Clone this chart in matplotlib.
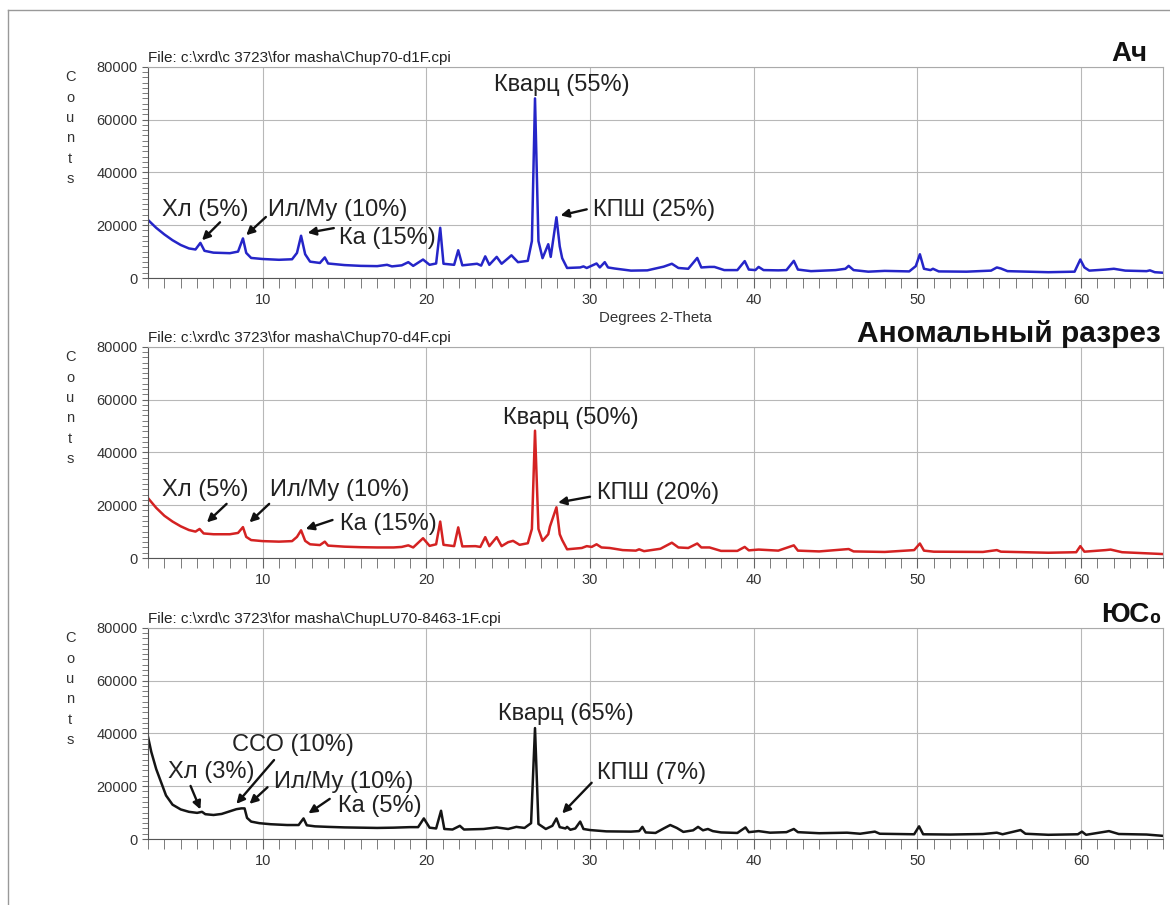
import matplotlib.pyplot as plt
from matplotlib.lines import Line2D
from matplotlib.ticker import MultipleLocator

# 2-theta / counts
ach_theta = [3.0, 3.5, 4.0, 4.5, 5.0, 5.5, 5.9, 6.2, 6.45, 7.0, 8.0, 8.5, 8.8, 9.0, 9.3,
             10.0, 11.0, 11.8, 12.1, 12.35, 12.6, 12.9, 13.5, 13.8, 14.0, 15.0, 16.0, 17.0,
             17.6, 17.9, 18.5, 18.9, 19.2, 19.8, 20.2, 20.6, 20.85, 21.05, 21.7, 21.95, 22.2,
             23.1, 23.35, 23.6, 23.85, 24.3, 24.6, 25.0, 25.2, 25.6, 26.2, 26.45, 26.64, 26.85,
             27.1, 27.45, 27.6, 27.95, 28.15, 28.3, 28.6, 29.4, 29.6, 29.8, 30.4, 30.6, 30.9,
             31.1, 31.5, 32.5, 33.5, 34.5, 35.0, 35.4, 36.0, 36.55, 36.8, 37.3, 37.6, 38.2,
             39.0, 39.45, 39.7, 40.1, 40.3, 40.6, 41.5, 42.0, 42.45, 42.7, 43.5, 45.0, 45.6,
             45.8, 46.1, 47.0, 48.0, 49.5, 49.9, 50.15, 50.4, 50.8, 50.95, 51.3, 53.0, 54.5,
             54.85, 55.1, 55.5, 58.0, 59.6, 59.95, 60.2, 60.5, 61.5, 62.0, 62.7, 64.0, 64.2,
             64.5, 65.0]
ach_counts = [22000, 19000, 16500, 14300, 12500, 11200, 10800, 13300, 10300, 9600, 9400, 10000,
              15000, 9500, 7600, 7200, 6900, 7100, 9500, 16000, 9000, 6200, 5700, 7800, 5500,
              4900, 4600, 4500, 5000, 4400, 4800, 6000, 4600, 7000, 5000, 5500, 19000, 5400,
              5000, 10500, 4800, 5400, 4700, 8200, 5000, 8000, 5400, 7500, 8600, 6000, 6500,
              14000, 68000, 14000, 7500, 12800, 8000, 23000, 12000, 7500, 3800, 4000, 4400,
              3800, 5500, 4000, 6000, 4000, 3600, 2800, 2900, 4300, 5400, 3800, 3500, 7600,
              4000, 4200, 4200, 3000, 3000, 6400, 3200, 3000, 4200, 3000, 2900, 3000, 6500,
              3200, 2600, 3000, 3500, 4600, 3000, 2400, 2700, 2500, 4500, 9000, 3500, 3000,
              3500, 2500, 2400, 2800, 4000, 3600, 2600, 2200, 2400, 7000, 4000, 2800, 3200,
              3500, 2800, 2600, 2900, 2200, 2000]

anom_theta = [3.0, 3.5, 4.0, 4.5, 5.0, 5.5, 5.9, 6.15, 6.4, 7.0, 8.0, 8.5, 8.8, 9.0, 9.3,
              10.0, 11.0, 11.8, 12.1, 12.35, 12.6, 12.9, 13.5, 13.8, 14.0, 15.0, 16.0, 17.0,
              18.0, 18.5, 18.9, 19.2, 19.8, 20.2, 20.6, 20.85, 21.05, 21.7, 21.95, 22.2, 23.0,
              23.3, 23.6, 23.85, 24.3, 24.6, 25.0, 25.3, 25.7, 26.2, 26.45, 26.64, 26.85, 27.1,
              27.45, 27.55, 27.95, 28.15, 28.3, 28.6, 29.5, 29.8, 30.1, 30.4, 30.7, 31.2, 32.0,
              32.8, 33.0, 33.3, 34.3, 35.0, 35.4, 36.0, 36.55, 36.8, 37.3, 38.0, 39.0, 39.45,
              39.7, 40.3, 41.5, 42.45, 42.7, 44.0, 45.8, 46.1, 48.0, 49.8, 50.15, 50.4, 51.0,
              54.0, 54.85, 55.1, 58.0, 59.7, 59.95, 60.2, 61.5, 61.8, 62.5, 65.0]
anom_counts = [22700, 19000, 16000, 13800, 12000, 10600, 10000, 11000, 9300, 9000, 9000, 9500,
               11700, 8000, 6800, 6400, 6200, 6400, 8000, 10500, 6500, 5200, 4900, 6200, 4700,
               4300, 4100, 4000, 4000, 4200, 4800, 4000, 7500, 4600, 5200, 13800, 5000, 4500,
               11600, 4400, 4500, 4200, 7900, 4500, 7900, 4500, 6000, 6500, 5000, 5600, 11000,
               48200, 11000, 6500, 9000, 11900, 19200, 9000, 6800, 3300, 3800, 4500, 4200, 5200,
               4000, 3800, 3000, 2800, 3300, 2600, 3500, 5800, 4000, 3800, 5500, 4000, 4000,
               2700, 2700, 4200, 2900, 3200, 2800, 4800, 2800, 2500, 3400, 2500, 2300, 3000,
               5500, 2800, 2400, 2300, 3000, 2400, 2000, 2200, 4500, 2400, 3000, 3200, 2200,
               1500]

yus_theta = [3.0, 3.2, 3.5, 3.8, 4.1, 4.5, 5.0, 5.5, 6.0, 6.3, 6.5, 7.0, 7.5, 8.0, 8.4, 8.7,
             8.9, 9.05, 9.3, 9.8, 10.5, 11.5, 12.2, 12.5, 12.7, 13.2, 14.0, 15.0, 16.0, 17.0,
             18.0, 19.0, 19.5, 19.85, 20.2, 20.6, 20.9, 21.1, 21.6, 22.05, 22.3, 23.5, 24.3,
             25.0, 25.5, 26.0, 26.4, 26.64, 26.85, 27.3, 27.7, 27.95, 28.15, 28.5, 28.6, 28.8,
             29.1, 29.4, 29.6, 30.0, 31.0, 32.5, 33.0, 33.2, 33.4, 34.0, 34.5, 34.9, 35.3,
             35.7, 36.3, 36.6, 36.9, 37.2, 37.5, 38.0, 39.0, 39.5, 39.7, 40.3, 41.0, 42.0,
             42.45, 42.7, 44.0, 45.7, 46.5, 47.4, 47.7, 49.8, 50.1, 50.35, 52.0, 54.0, 54.85,
             55.2, 56.3, 56.6, 58.0, 59.8, 60.05, 60.3, 61.3, 61.7, 62.3, 64.0, 65.0]
yus_counts = [38700, 33000, 26500, 21500, 16500, 13000, 11200, 10300, 9900, 10300, 9400, 9100,
              9500, 10500, 11300, 11600, 11600, 8000, 6600, 6000, 5600, 5300, 5300, 7800, 5200,
              4800, 4600, 4400, 4300, 4200, 4300, 4500, 4500, 7800, 4300, 4000, 10700, 3800,
              3600, 5000, 3600, 3800, 4400, 3800, 4600, 4200, 6000, 42000, 5700, 3800, 5000,
              7800, 4500, 4000, 4600, 3500, 4000, 6600, 3800, 3400, 2900, 2800, 3000, 4600,
              2500, 2300, 4000, 5300, 4200, 2700, 3300, 4600, 3300, 3800, 3000, 2500, 2300,
              4400, 2600, 3000, 2400, 2600, 3800, 2600, 2200, 2400, 2000, 2800, 2000, 1800,
              4800, 1800, 1700, 1900, 2400, 1800, 3400, 2000, 1600, 1800, 2800, 1600, 2600,
              3000, 1900, 1700, 1200]

sample_names = ['Ач', 'Аномальный разрез', 'ЮС₀']
file_names = [r'File: c:\xrd\c 3723\for masha\Chup70-d1F.cpi',
              r'File: c:\xrd\c 3723\for masha\Chup70-d4F.cpi',
              r'File: c:\xrd\c 3723\for masha\ChupLU70-8463-1F.cpi']
line_colors = ['#2525c8', '#d42222', '#151515']

# (text, text x, text y, alignment, arrow start, arrow tip)
notes = [
    [('Хл (5%)', 3.85, 25600, 'left', (7.4, 21100), (6.3, 14300)),
     ('Ил/Му (10%)', 10.35, 25600, 'left', (10.2, 23100), (9.0, 16200)),
     ('Ка (15%)', 14.65, 15100, 'left', (14.35, 18900), (12.75, 17100)),
     ('Кварц (55%)', 28.3, 73100, 'center', None, None),
     ('КПШ (25%)', 30.2, 25600, 'left', (29.8, 26000), (28.2, 23700))],
    [('Хл (5%)', 3.85, 25800, 'left', (7.8, 20500), (6.6, 13500)),
     ('Ил/Му (10%)', 10.45, 25800, 'left', (10.4, 20500), (9.2, 13500)),
     ('Ка (15%)', 14.7, 12900, 'left', (14.27, 14400), (12.63, 11000)),
     ('Кварц (50%)', 28.8, 53000, 'center', None, None),
     ('КПШ (20%)', 30.4, 24600, 'left', (30.0, 23200), (28.05, 21000))],
    [('Хл (3%)', 4.2, 25300, 'left', (5.6, 20100), (6.2, 11200)),
     ('ССО (10%)', 8.15, 35600, 'left', (10.7, 29900), (8.4, 13300)),
     ('Ил/Му (10%)', 10.7, 21700, 'left', (10.3, 19600), (9.2, 13300)),
     ('Ка (5%)', 14.6, 12500, 'left', (14.1, 15200), (12.8, 9700)),
     ('Кварц (65%)', 28.5, 47400, 'center', None, None),
     ('КПШ (7%)', 30.4, 24900, 'left', (30.1, 21300), (28.3, 9700))],
]

plt.rcParams['font.family'] = ['Liberation Sans', 'DejaVu Sans']

fig = plt.figure(figsize=(11.7, 9.05), dpi=100)

# thin grey frame round the picture
fig.add_artist(Line2D([8 / 1170, 1], [1 - 10 / 905, 1 - 10 / 905], color='#999999', lw=1))
fig.add_artist(Line2D([8 / 1170, 8 / 1170], [0, 1 - 10 / 905], color='#999999', lw=1))

panel_bottoms = [0.6928, 0.3834, 0.0729]
name_right = [1147 / 1170, 1161 / 1170, 1162 / 1170]
name_sizes = [20, 21.5, 20]
series = [(ach_theta, ach_counts), (anom_theta, anom_counts), (yus_theta, yus_counts)]

for i in range(3):
    ax = fig.add_axes([0.1265, panel_bottoms[i], 0.8675, 0.2335])
    theta, counts = series[i]
    ax.plot(theta, counts, color=line_colors[i], lw=1.8)

    ax.set_xlim(3, 65)
    ax.set_ylim(0, 80000)
    ax.xaxis.set_major_locator(MultipleLocator(10))
    ax.xaxis.set_minor_locator(MultipleLocator(1))
    ax.yaxis.set_major_locator(MultipleLocator(20000))
    ax.yaxis.set_minor_locator(MultipleLocator(2000))
    ax.grid(True, which='major', color='#b8b8b8', lw=0.8)
    ax.tick_params(which='both', direction='out', colors='#666666', labelcolor='#333333',
                   labelsize=10.5)
    ax.tick_params(axis='x', which='both', length=7)
    ax.tick_params(axis='y', which='both', length=4)
    for side in ['top', 'right']:
        ax.spines[side].set_color('#aaaaaa')
    for side in ['left', 'bottom']:
        ax.spines[side].set_color('#555555')

    if i == 0:
        ax.set_xlabel('Degrees 2-Theta', fontsize=10.8, color='#333333', labelpad=3)

    ax.text(0, 1.008, file_names[i], transform=ax.transAxes, fontsize=11,
            color='#222222', ha='left', va='bottom')
    top_px = 905 * (1 - panel_bottoms[i] - 0.2335)
    fig.text(name_right[i], 1 - (top_px - 13) / 905, sample_names[i], fontsize=name_sizes[i],
             fontweight='bold', ha='right', va='center', color='#111111')
    fig.text(70 / 1170, panel_bottoms[i] + 0.2335 - 0.068, 'C\no\nu\nn\nt\ns',
             ha='center', va='center', fontsize=10.5, linespacing=1.58, color='#333333')

    for txt, tx, ty, ha, start, tip in notes[i]:
        ax.text(tx, ty, txt, ha=ha, va='center', fontsize=17, color='#222222')
        if start is not None:
            ax.annotate('', xy=tip, xytext=start,
                        arrowprops=dict(arrowstyle='-|>', color='#111111', lw=1.7,
                                        mutation_scale=12, shrinkA=0, shrinkB=0))

fig.savefig('out.png', dpi=100)
